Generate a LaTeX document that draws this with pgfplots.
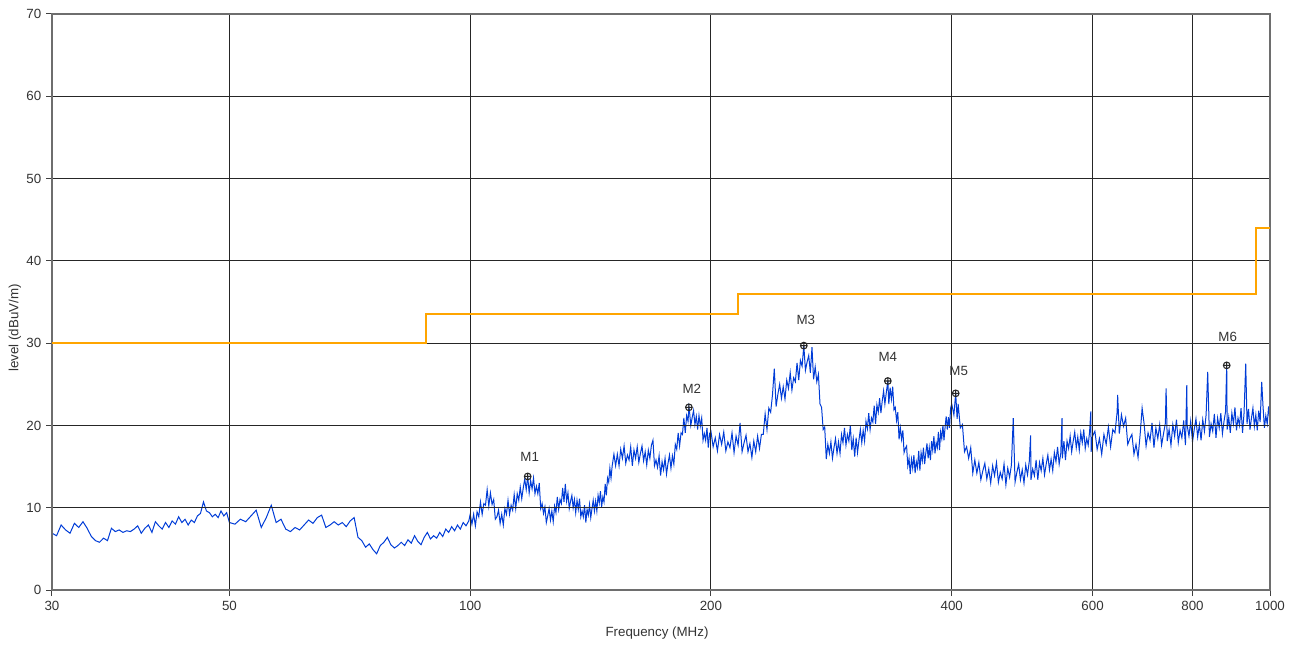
\documentclass[border=0pt]{standalone}
\usepackage{fontspec}
\setmainfont{Liberation Sans}
\usepackage{pgfplots}
\pgfplotsset{compat=1.18}
\definecolor{trace}{RGB}{0,60,215}
\definecolor{limit}{RGB}{255,165,0}
\definecolor{txt}{RGB}{51,51,51}
\definecolor{frame}{RGB}{110,110,110}
\begin{document}
\begin{tikzpicture}
\begin{axis}[
  name=ax,
  set layers,
  width=913.5pt, height=432pt, scale only axis,
  xmode=log, log basis x=10,
  xmin=30, xmax=1000, ymin=0, ymax=70,
  xtick={30,50,100,200,400,600,800,1000},
  xticklabels={30,50,100,200,400,600,800,1000},
  ytick={0,10,...,70},
  grid=major,
  major grid style={line width=0.75pt, black!85},
  axis line style={line width=1.2pt, frame},
  xtick pos=bottom, ytick pos=left,
  tick align=outside,
  major tick length=4.5pt,
  tick style={line width=0.75pt, black!75},
  ticklabel style={font=\fontsize{10}{12}\selectfont, text=txt},
  /pgf/number format/assume math mode=true,
  xlabel={Frequency (MHz)},
  ylabel={level (dBuV/m)},
  label style={font=\fontsize{10}{12}\selectfont, text=txt},
  xlabel style={at={(axis description cs:0.4967,-0.0747)}, anchor=center},
  ylabel style={at={(axis description cs:-0.0304,0.455)}, anchor=center},
]
% measured trace (peak detector)
\addplot[trace, line width=0.75pt, on layer=axis background] coordinates {
(30,6.9)(30.4,6.6)(30.8,7.9)(31.2,7.3)(31.6,6.9)(32,8.1)(32.4,7.6)(32.8,8.3)(33.2,7.5)(33.6,6.5)
(34,6.0)(34.4,5.8)(34.8,6.3)(35.2,6.0)(35.6,7.5)(36,7.1)(36.4,7.3)(36.8,7.0)(37.2,7.2)(37.6,7.1)
(38,7.4)(38.4,7.8)(38.8,6.9)(39.2,7.5)(39.6,7.9)(40,7.0)(40.4,8.3)(40.8,7.8)(41.2,7.4)(41.6,8.2)
(42,7.6)(42.4,8.4)(42.8,8.0)(43.2,8.9)(43.6,8.2)(44,8.6)(44.4,7.9)(44.8,8.5)(45.2,8.2)(45.6,9.0)
(46,9.3)(46.4,10.7)(46.8,9.6)(47.2,9.4)(47.6,8.9)(48,9.2)(48.4,8.8)(48.8,9.6)(49.2,9.0)(49.6,9.4)
(50,8.2)(50.8,8.0)(51.6,8.6)(52.4,8.3)(53.2,9.0)(54,9.7)(54.8,7.6)(55.6,8.8)(56.4,10.3)(57.2,8.2)
(58,8.6)(58.8,7.4)(59.6,7.1)(60.4,7.6)(61.2,7.3)(62,7.9)(62.8,8.5)(63.6,8.1)(64.4,8.8)(65.2,9.1)
(66,7.6)(66.8,7.9)(67.6,8.3)(68.4,7.9)(69.2,8.2)(70,7.7)(70.8,8.4)(71.6,8.8)(72.4,6.4)(73.2,6.0)
(74,5.2)(74.8,5.6)(75.6,4.9)(76.4,4.4)(77.2,5.4)(78,5.8)(78.8,6.4)(79.6,5.5)(80.4,5.1)(81.2,5.4)
(82,5.8)(82.8,5.4)(83.6,6.1)(84.4,5.7)(85.2,6.6)(86,5.9)(86.8,5.5)(87.6,6.4)(88.4,7.0)(89.2,6.2)
(90,6.6)(90.8,6.3)(91.6,7.0)(92.4,6.5)(93.2,7.4)(94,7.0)(94.8,7.7)(95.6,7.2)(96.4,7.9)(97.2,7.4)
(98,8.2)(98.8,7.8)(99.6,8.4)
(100,9.2)(100.5,8.0)(101,9.2)(101.5,7.8)(102,9.5)(102.5,8.9)(103,10.7)(103.5,9.2)(104,10.5)(104.5,10.3)
(105,12.2)(105.5,10.2)(106,11.8)(106.5,10.4)(107,11.0)(107.5,8.6)(108,8.9)(108.5,9.7)(109,8.1)(109.5,9.2)
(110,7.9)(110.5,9.9)(111,9.2)(111.5,10.9)(112,9.2)(112.5,10.3)(113,9.7)(113.5,11.6)(114,9.9)(114.5,11.7)
(115,10.9)(115.5,12.5)(116,11.1)(116.5,12.4)(117,13.5)(117.5,12.2)(118,13.8)(118.5,11.8)(119,13.3)(119.5,12.3)
(120,13.6)(120.5,11.7)(121,12.6)(121.5,11.7)(122,13.0)(122.5,9.9)(123,10.5)(123.5,9.3)(124,10.1)(124.5,8.2)
(125,9.0)(125.5,9.9)(126,8.5)(126.5,9.6)(127,8.3)(127.5,10.2)(128,9.4)(128.5,11.3)(129,9.8)(129.5,11.0)
(130,10.5)(130.5,12.4)(131,10.7)(131.5,12.9)(132,10.8)(132.5,11.8)(133,9.9)(133.5,10.8)(134,11.5)(134.5,10.0)
(135,11.0)(135.5,9.4)(136,10.9)(136.5,9.8)(137,11.1)(137.5,8.9)(138,9.6)(138.5,8.9)(139,10.3)(139.5,8.2)
(140,9.8)(140.5,9.1)(141,10.4)(141.5,8.8)(142,9.9)(142.5,10.9)(143,9.6)(143.5,10.8)(144,9.6)(144.5,11.5)
(145,10.6)(145.5,12.0)(146,10.1)(146.5,11.3)(147,10.7)(147.5,12.9)(148,11.5)(148.5,13.6)(149,13.1)(149.5,14.8)
(150,13.6)(150.5,15.1)
(151.25,16.5)(152,15.1)(152.75,16.5)(153.5,15.1)(154.25,17.1)(155,16.0)(155.75,17.5)(156.5,15.4)(157.25,16.4)
(158,15.8)(158.75,17.4)(159.5,15.1)(160.25,17.0)(161,16.0)(161.75,17.4)(162.5,15.5)(163.25,16.6)(164,17.5)
(164.75,15.7)(165.5,16.8)(166.25,15.2)(167,17.0)(167.75,16.0)(168.5,17.6)(169.25,18.2)(170,15.1)(170.75,15.8)
(171.5,14.9)(172.25,16.3)(173,13.9)(173.75,15.6)(174.5,14.6)(175.25,16.0)(176,14.1)(176.75,15.4)(177.5,16.4)
(178.25,14.8)(179,16.3)(179.75,15.3)(180.5,17.7)(181.25,17.1)(182,19.1)(182.75,17.5)(183.5,19.1)(184.25,18.9)
(185,20.9)(185.75,19.1)(186.5,21.2)(187.25,20.5)(187.7,22.2)(188,21.8)(188.75,20.0)(189.5,21.0)(190.25,21.8)
(191,20.1)(191.75,21.1)(192.5,19.5)(193.25,21.2)(194,19.9)(194.75,20.9)(195.5,18.2)(196.25,19.0)(197,18.2)
(197.75,19.7)(198.5,17.3)(199.25,19.0)
(200,19.3)(201.25,17.4)(202.5,18.5)(203.75,16.9)(205,18.9)(206.25,17.7)(207.5,19.2)(208.75,16.9)(210,18.0)
(211.25,17.3)(212.5,19.1)(213.75,16.7)(215,18.7)(216.25,17.6)(217.5,20.3)(218.75,16.8)(220,17.9)(221.25,18.8)
(222.5,16.8)(223.75,17.8)(225,16.1)(226.25,18.1)(227.5,16.8)(228.75,18.7)(230,17.2)(231.25,18.9)(232.5,18.9)
(233.75,21.4)(235,19.5)(236.25,22.1)(237.5,21.6)(238.75,23.7)(240,26.9)(241.25,22.3)(242.5,23.8)(243.75,25.0)
(245,23.3)(246.25,24.7)(247.5,23.2)(248.75,25.5)(250,24.5)(251.25,26.4)(252.5,24.3)(253.75,25.8)(255,25.3)
(256.25,27.6)(257.5,25.5)(258.75,27.9)(260,27.2)(261.3,29.7)(262.5,26.7)(263.75,27.7)(265,28.5)(266.25,26.4)
(267.5,29.5)(268.75,25.6)(270,27.1)(271.25,25.3)(272.5,26.2)(273.75,22.6)(275,22.2)(276.25,19.5)(277.5,19.8)
(278.75,15.9)(280,17.7)(281.25,16.6)(282.5,18.0)(283.75,16.0)(285,17.3)(286.25,18.4)(287.5,16.6)(288.75,18.0)
(290,16.6)(291.25,18.9)(292.5,17.9)(293.75,19.7)(295,17.6)(296.25,18.9)(297.5,18.1)(298.75,20.0)(300,17.0)
(301.25,18.4)(302.5,16.2)(303.75,18.5)(305,16.7)(306.25,18.2)(307.5,19.5)(308.75,17.9)(310,19.4)(311.25,18.1)
(312.5,20.5)(313.75,19.6)(315,21.5)(316.25,19.5)(317.5,20.9)(318.75,20.4)(320,22.4)(321.25,20.2)(322.5,22.5)
(323.75,21.6)(325,23.3)(326.25,21.5)(327.5,23.0)(328.75,24.2)(330,22.6)(331.25,23.9)(332.8,25.4)(333.75,22.6)
(335,24.6)(336.25,23.2)(337.5,24.7)(338.75,21.9)(340,22.2)(341.25,20.6)(342.5,21.6)(343.75,18.3)(345,19.7)
(346.25,18.3)(347.5,19.4)(348.75,16.7)(350,17.2)(351.25,17.5)(352.5,15.1)(353.75,16.0)(355,14.1)(356.25,15.9)
(357.5,14.8)(358.75,16.4)(360,14.2)(361.25,15.6)(362.5,14.9)(363.75,16.9)(365,14.5)(366.25,16.7)(367.5,15.7)
(368.75,17.3)(370,15.3)(371.25,16.6)(372.5,17.8)(373.75,16.0)(375,17.3)(376.25,15.8)(377.5,18.1)(378.75,17.0)
(380,18.7)(381.25,16.6)(382.5,17.9)(383.75,17.3)(385,19.2)(386.25,17.0)(387.5,19.2)(388.75,18.4)(390,20.0)
(391.25,18.2)(392.5,19.8)(393.75,21.1)(395,19.5)(396.25,21.0)(397.5,19.7)(398.75,22.1)
(400,22.6)(402.5,21.3)(404.6,23.9)(406.25,20.8)(407.5,22.6)(410,19.7)(412.5,20.1)(415,16.8)(417.5,17.4)
(420,16.0)(422.5,17.3)(425,14.2)(427.5,15.8)(430,14.2)(432.5,15.5)(435,13.4)(437.5,14.5)(440,15.4)
(442.5,13.5)(445,14.7)(447.5,13.0)(450,15.1)(452.5,13.9)(455,15.5)(457.5,13.1)(460,14.3)(462.5,13.5)
(465,15.3)(467.5,12.8)(470,14.8)(472.5,13.7)(475,15.2)(477.5,20.9)(480,13.1)(482.5,14.3)(485,15.3)
(487.5,13.4)(490,14.6)(492.5,13.0)(495,15.2)(497.5,14.0)(500,15.6)(502,18.8)(502.5,13.4)(505,14.7)
(507.5,13.9)(510,15.8)(512.5,13.4)(515,15.5)(517.5,14.5)(520,16.0)(522.5,14.0)(525,15.3)(527.5,16.4)
(530,14.6)(532.5,15.9)(535,14.5)(537.5,16.7)(540,15.6)(542.5,17.4)(545,15.3)(547.5,16.6)(549.5,20.9)
(550,16.0)(552.5,18.1)(555,15.8)(557.5,18.1)(560,17.2)(562.5,18.7)(565,16.8)(567.5,18.1)(570,19.2)
(572.5,17.3)(575,18.6)(577.5,17.0)(580,19.1)(582.5,17.9)(585,19.5)(587.5,17.2)(590,18.4)(592.5,17.6)
(595,19.3)(597,21.7)(597.5,16.8)(600,18.7)
(604,19.3)(608,17.1)(612,18.4)(616,16.5)(620,18.9)(624,17.7)(628,19.8)(632,17.4)(636,19.5)(640,19.1)
(644,21.6)(645,23.7)(648,19.0)(652,21.3)(656,19.9)(660,20.9)(664,17.7)(668,18.4)(672,18.9)(676,16.5)
(680,17.7)(684,16.1)(688,18.8)(692,22.1)(696,20.2)(700,17.5)(704,19.1)(708,18.2)(712,20.3)(716,17.3)
(720,19.7)(724,18.4)(728,20.1)(732,17.6)(736,19.0)(740,20.3)(741.5,24.5)(744,18.1)(748,19.5)(752,17.6)
(756,20.1)(760,18.7)(764,20.7)(768,17.9)(772,19.4)(776,18.5)(780,20.6)(784,17.6)(787,24.9)(788,20.0)
(792,18.7)(796,20.5)(800,18.0)(804,19.5)(808,20.8)(812,18.6)(816,20.1)(820,18.2)(824,20.7)(828,19.3)
(832,21.3)(835.8,26.5)(840,18.6)(844,20.2)(848,19.3)(852,21.4)(856,18.5)(860,20.9)(864,19.7)(868,21.5)
(872,19.0)(876,20.5)(880,21.7)(882.8,27.3)(884,19.5)(888,21.0)(892,19.1)(896,21.5)(900,20.2)(904,22.2)
(908,19.4)(912,20.9)(916,20.0)(920,22.1)(924,19.1)(928,21.5)(932.5,27.5)(936,20.2)(940,22.0)(944,19.5)
(948,20.9)(952,22.1)(956,19.9)(960,21.3)(964,19.4)(968,21.8)(972,20.4)(976.4,25.3)(980,22.4)(984,19.7)
(988,21.2)(992,20.2)(996,22.3)(1000,20.5)
};
% limit line
\addplot[limit, line width=1.5pt, const plot] coordinates {
(30,30)(88,33.5)(216,36)(960,44)(1000,44)
};
% markers
\addplot[only marks, mark=oplus, mark size=2.5pt, mark options={black!85, line width=0.8pt}] coordinates {
(118,13.8)(187.7,22.2)(261.3,29.7)(332.8,25.4)(404.6,23.9)(882.8,27.3)
};
\begin{scope}[every node/.style={font=\fontsize{10}{12}\selectfont, text=txt}]
\node at (axis cs:118.7,16.2) {M1};
\node at (axis cs:189.3,24.5) {M2};
\node at (axis cs:262.8,32.8) {M3};
\node at (axis cs:332.8,28.3) {M4};
\node at (axis cs:408.1,26.6) {M5};
\node at (axis cs:885.3,30.7) {M6};
\end{scope}
\end{axis}
\pgfresetboundingbox
\path[use as bounding box] ([shift={(-39pt,-42pt)}]ax.south west) rectangle ([shift={(20.25pt,10.5pt)}]ax.north east);
\end{tikzpicture}
\end{document}
